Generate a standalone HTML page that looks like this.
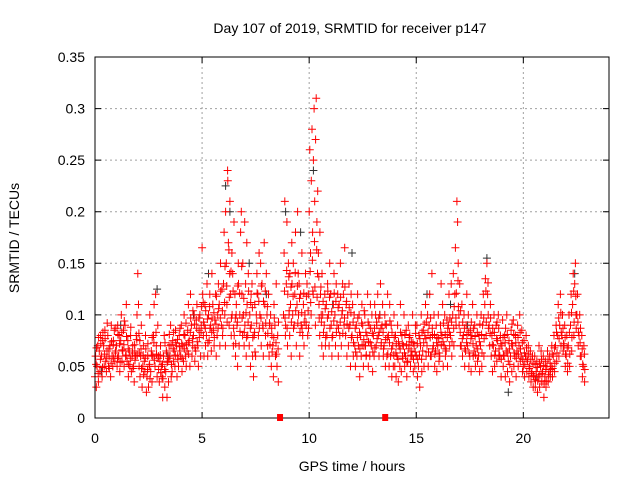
<!DOCTYPE html>
<html><head><meta charset="utf-8"><style>
body{margin:0;background:#fff;}
svg{display:block;font-family:"Liberation Sans",sans-serif;}
</style></head><body>
<svg id="chart" width="640" height="480" viewBox="0 0 640 480" xmlns="http://www.w3.org/2000/svg">
<rect width="640" height="480" fill="#fff"/>
<text x="350" y="33" font-size="14" text-anchor="middle" fill="#000">Day 107 of 2019, SRMTID for receiver p147</text>
<text transform="translate(19,238) rotate(-90)" font-size="14" text-anchor="middle" fill="#000">SRMTID / TECUs</text>
<text x="352" y="471" font-size="14" text-anchor="middle" fill="#000">GPS time / hours</text>
<g id="grid"></g>
<g id="ticks"></g>
<g id="gray"></g>
<g id="red"></g>
<rect x="95" y="57" width="514" height="361" fill="none" stroke="#000" stroke-width="1"/>
<g id="marks"></g>
</svg>
<script>
const xTicks = [0,5,10,15,20];
const yTicks = [0,0.05,0.1,0.15,0.2,0.25,0.3,0.35];
const yTickLabels = ["0","0.05","0.1","0.15","0.2","0.25","0.3","0.35"];
const gapHours = [8.64,13.55];
const hours = [0.0,0.1,0.2,0.3,0.4,0.5,0.6,0.7,0.8,0.9,1.0,1.1,1.2,1.3,1.4,1.5,1.6,1.7,1.8,1.9,2.0,2.1,2.2,2.3,2.4,2.5,2.6,2.7,2.8,2.9,3.0,3.1,3.2,3.3,3.4,3.5,3.6,3.7,3.8,3.9,4.0,4.1,4.2,4.3,4.4,4.5,4.6,4.7,4.8,4.9,5.0,5.1,5.2,5.3,5.4,5.5,5.6,5.7,5.8,5.9,6.0,6.1,6.2,6.3,6.4,6.5,6.6,6.7,6.8,6.9,7.0,7.1,7.2,7.3,7.4,7.5,7.6,7.7,7.8,7.9,8.0,8.1,8.2,8.3,8.4,8.5,8.8,8.9,9.0,9.1,9.2,9.3,9.4,9.5,9.6,9.7,9.8,9.9,10.0,10.1,10.2,10.3,10.4,10.5,10.6,10.7,10.8,10.9,11.0,11.1,11.2,11.3,11.4,11.5,11.6,11.7,11.8,11.9,12.0,12.1,12.2,12.3,12.4,12.5,12.6,12.7,12.8,12.9,13.0,13.1,13.2,13.3,13.4,13.5,13.6,13.7,13.8,13.9,14.0,14.1,14.2,14.3,14.4,14.5,14.6,14.7,14.8,14.9,15.0,15.1,15.2,15.3,15.4,15.5,15.6,15.7,15.8,15.9,16.0,16.1,16.2,16.3,16.4,16.5,16.6,16.7,16.8,16.9,17.0,17.1,17.2,17.3,17.4,17.5,17.6,17.7,17.8,17.9,18.0,18.1,18.2,18.3,18.4,18.5,18.6,18.7,18.8,18.9,19.0,19.1,19.2,19.3,19.4,19.5,19.6,19.7,19.8,19.9,20.0,20.1,20.2,20.3,20.4,20.5,20.6,20.7,20.8,20.9,21.0,21.1,21.2,21.3,21.4,21.5,21.6,21.7,21.8,21.9,22.0,22.1,22.2,22.3,22.4,22.5,22.6,22.7,22.8];
const redValues = [
[.04,.06,.03],[.05,.07,.035],[.065,.045,.08],[.06,.04,.075],[.07,.05,.085],[.055,.045,.065],[.08,.05,.06],[.07,.04,.09],[.06,.05,.075],[.085,.055,.065],
[.07,.05,.09],[.06,.08,.045],[.075,.1,.055],[.065,.085,.05],[.09,.06,.11],[.055,.075,.04],[.065,.05,.08],[.045,.06,.07],[.05,.035,.065],[.06,.08,.1],
[.14,.11,.05,.075],[.04,.06,.09],[.03,.05,.07],[.055,.045,.08],[.025,.04,.06],[.03,.05,.1],[.045,.065,.035],[.06,.08,.11],[.05,.12,.07],[.04,.09,.06],
[.035,.055,.07],[.05,.04,.02],[.06,.08,.03],[.045,.065,.02],[.055,.035,.07],[.06,.09,.04],[.045,.075,.055],[.065,.05,.085],[.07,.04,.06],[.05,.08,.065],
[.06,.09,.045],[.07,.055,.1],[.08,.06,.05],[.065,.085,.11],[.075,.05,.12],[.09,.06,.07],[.08,.1,.055],[.065,.095,.11],[.07,.05,.085],[.1,.06,.09],
[.165,.12,.08,.06],[.09,.11,.07],[.08,.13,.06],[.1,.075,.12],[.09,.065,.14],[.11,.085,.07],[.095,.12,.06],[.08,.1,.13],[.11,.07,.15],[.09,.125,.08],
[.13,.18,.1,.07],[.2,.15,.11,.24],[.23,.17,.09,.14],[.21,.12,.08,.16],[.1,.14,.07,.19],[.08,.12,.06,.1],[.11,.09,.05,.15],[.13,.07,.1],[.18,.2,.12,.08],[.15,.1,.07,.19],
[.09,.13,.06,.17],[.11,.08,.14],[.07,.1,.05,.12],[.09,.13,.06],[.04,.08,.11],[.06,.1,.14],[.12,.08,.16],[.1,.15,.07],[.13,.09,.06],[.17,.11,.08],
[.14,.1,.07],[.12,.06,.09],[.1,.05,.08],[.07,.04,.11],[.09,.06,.13],[.05,.08,.035],
[.1,.16,.21,.08],[.09,.13,.19,.07],[.12,.15,.1,.08],[.14,.11,.06,.17],[.13,.1,.15],[.09,.12,.18],[.07,.11,.2,.14],[.1,.13,.06],[.12,.09,.16],[.08,.11,.07],[.1,.14,.09],[.13,.08,.12],
[.2,.26,.16,.1],[.23,.28,.18,.12],[.25,.3,.21,.09],[.27,.31,.19,.14],[.22,.16,.11,.08],[.18,.12,.1,.07],[.14,.1,.06],[.09,.12,.07],[.11,.08,.13],[.1,.07,.15],
[.12,.09,.06],[.08,.11,.14],[.1,.07,.13],[.09,.12,.06],[.11,.08,.15],[.07,.1,.13],[.12,.09,.165],[.08,.11,.06],[.1,.07,.13],[.09,.05,.12],
[.08,.11,.06],[.1,.07,.05],[.09,.06,.12],[.07,.1,.04],[.08,.06,.11],[.09,.05,.07],[.1,.07,.06],[.08,.12,.05],[.09,.06,.11],[.07,.1,.045],
[.08,.06,.11],[.1,.07,.09],[.12,.08,.06],[.1,.13,.07],[.09,.11,.06],[.07,.1,.05],[.09,.06,.12],[.08,.05,.11],[.06,.09,.04],[.07,.05,.1],
[.05,.08,.04],[.06,.09,.035],[.07,.05,.11],[.045,.08,.06],[.07,.1,.05],[.06,.085,.04],[.055,.09,.07],[.08,.05,.065],[.06,.1,.045],[.07,.05,.09],
[.06,.09,.04],[.05,.08,.03],[.07,.1,.045],[.065,.085,.05],[.08,.11,.06],[.07,.1,.05],[.09,.12,.06],[.06,.14,.08],[.07,.1,.05],[.065,.09,.045],
[.07,.1,.055],[.06,.09,.13],[.08,.11,.05],[.07,.1,.06],[.065,.095,.05],[.09,.12,.07],[.08,.13,.06],[.1,.14,.07],[.12,.165,.09],[.21,.19,.15,.1],
[.09,.13,.07],[.07,.11,.06],[.08,.1,.05],[.065,.09,.12],[.07,.1,.05],[.06,.085,.045],[.08,.11,.06],[.065,.09,.05],[.07,.1,.055],[.06,.08,.045],
[.07,.1,.05],[.09,.12,.06],[.11,.135,.08],[.15,.12,.1],[.09,.07,.11],[.06,.08,.045],[.07,.1,.05],[.065,.09,.055],[.075,.1,.06],[.06,.08,.04],
[.07,.095,.05],[.06,.08,.04],[.065,.1,.045],[.055,.075,.035],[.06,.085,.045],[.07,.095,.05],[.06,.08,.04],[.065,.09,.05],[.07,.1,.055],[.06,.085,.045],
[.05,.075,.04],[.06,.08,.045],[.055,.07,.04],[.05,.065,.035],[.045,.06,.03],[.04,.06,.03],[.045,.055,.025],[.04,.07,.03],[.05,.065,.035],[.045,.06,.02],
[.04,.055,.03],[.05,.065,.035],[.045,.06,.04],[.05,.07,.04],[.06,.08,.045],[.07,.09,.055],[.08,.11,.06],[.09,.12,.07],[.08,.1,.065],[.07,.09,.05],
[.06,.08,.045],[.07,.1,.05],[.09,.12,.065],[.11,.14,.08],[.13,.15,.1],[.1,.12,.07],[.08,.1,.06],[.06,.08,.04],[.05,.07,.035]
];
// second sweep of samples (offset half a bin)
const redValues2 = [
[.052,.068],[.043,.078],[.057,.072],[.049,.083],[.062,.077],[.058,.092],[.067,.048],[.053,.074],[.071,.058],[.063,.087],
[.058,.081],[.072,.054],[.083,.066],[.071,.094],[.061,.079],[.067,.052],[.058,.088],[.063,.048],[.071,.056],[.076,.061],
[.082,.063],[.067,.048],[.061,.042],[.058,.067],[.047,.072],[.052,.038],[.061,.078],[.073,.056],[.083,.062],[.058,.047],
[.061,.044],[.052,.038],[.047,.073],[.063,.054],[.058,.081],[.071,.052],[.067,.083],[.061,.073],[.076,.057],[.069,.087],
[.072,.058],[.081,.067],[.092,.071],[.073,.062],[.083,.097],[.077,.104],[.091,.068],[.087,.074],[.097,.078],[.083,.108],
[.112,.093],[.087,.104],[.096,.073],[.108,.087],[.083,.097],[.102,.078],[.091,.118],[.087,.106],[.097,.123],[.104,.087],
[.112,.147],[.128,.093],[.163,.117],[.142,.097],[.123,.087],[.097,.072],[.093,.128],[.121,.084],[.147,.097],[.116,.083],
[.102,.078],[.093,.123],[.087,.112],[.107,.078],[.083,.064],[.092,.121],[.113,.087],[.097,.128],[.087,.113],[.123,.092],
[.108,.082],[.092,.071],[.087,.064],[.078,.097],[.073,.062],[.067,.093],
[.123,.097],[.143,.087],[.137,.104],[.127,.093],[.118,.087],[.141,.104],[.128,.092],[.116,.083],[.102,.087],[.121,.093],[.093,.118],[.104,.087],
[.142,.112],[.153,.123],[.171,.127],[.163,.117],[.137,.097],[.127,.093],[.113,.083],[.106,.078],[.097,.123],[.117,.087],
[.103,.078],[.094,.121],[.113,.083],[.107,.087],[.093,.117],[.104,.082],[.097,.127],[.113,.091],[.087,.107],[.102,.078],
[.093,.073],[.087,.064],[.078,.097],[.083,.067],[.092,.071],[.076,.104],[.083,.061],[.093,.074],[.073,.087],[.082,.064],
[.087,.068],[.093,.077],[.097,.083],[.087,.073],[.083,.067],[.091,.076],[.078,.062],[.073,.094],[.067,.083],[.061,.078],
[.063,.072],[.057,.074],[.067,.083],[.072,.058],[.063,.081],[.071,.054],[.067,.078],[.061,.074],[.073,.057],[.064,.082],
[.072,.057],[.061,.077],[.057,.083],[.073,.091],[.077,.093],[.083,.064],[.078,.097],[.087,.067],[.081,.062],[.073,.078],
[.077,.063],[.083,.071],[.074,.092],[.081,.067],[.078,.087],[.083,.097],[.093,.074],[.087,.108],[.097,.121],[.133,.108],
[.083,.104],[.077,.093],[.087,.067],[.073,.081],[.083,.063],[.077,.093],[.072,.087],[.079,.061],[.083,.067],[.074,.091],
[.081,.063],[.097,.077],[.123,.093],[.131,.087],[.082,.097],[.071,.087],[.083,.061],[.077,.093],[.087,.067],[.072,.057],
[.078,.061],[.073,.087],[.081,.063],[.067,.052],[.072,.091],[.081,.063],[.073,.058],[.078,.062],[.083,.067],[.073,.057],
[.063,.052],[.068,.057],[.062,.048],[.057,.043],[.053,.041],[.052,.037],[.049,.036],[.053,.042],[.057,.043],[.051,.033],
[.047,.036],[.057,.042],[.053,.047],[.062,.048],[.068,.053],[.083,.063],[.097,.077],[.102,.083],[.087,.072],[.078,.062],
[.068,.053],[.083,.062],[.102,.078],[.123,.093],[.118,.087],[.093,.083],[.073,.087],[.067,.052],[.062,.047]
];
const grayHours = [0.3,1.2,2.9,3.4,4.6,5.3,6.1,6.3,7.2,8.0,8.9,9.6,10.2,11.1,12.0,13.3,14.2,15.5,16.6,17.4,18.3,19.3,20.6,21.9,22.4];
const grayValues = [0.045,0.09,0.125,0.06,0.1,0.14,0.225,0.2,0.15,0.12,0.2,0.18,0.24,0.11,0.16,0.1,0.07,0.12,0.11,0.09,0.155,0.025,0.04,0.07,0.14];

const X0=95, X1=609, Y0=418, Y1=57, XMAX=24, YMAX=0.35;
function sx(h){return X0+(X1-X0)*h/XMAX;}
function sy(v){return Y0-(Y0-Y1)*v/YMAX;}
const NS="http://www.w3.org/2000/svg";
function mk(tag,attrs,parent){const e=document.createElementNS(NS,tag);for(const k in attrs)e.setAttribute(k,attrs[k]);parent.appendChild(e);return e;}
const grid=document.getElementById('grid'), ticks=document.getElementById('ticks');
xTicks.forEach(t=>{
  const x=sx(t);
  if(t>0){const g=mk('line',{x1:x,x2:x,y1:Y1,y2:Y0,stroke:'#a0a0a0','stroke-dasharray':'2,3'},grid);
  
  }
  const a=mk('path',{d:`M${x} ${Y0}v-6M${x} ${Y1}v6`,stroke:'#000'},ticks);
  
  
  const l=mk('text',{x:x,y:443,'font-size':14,'text-anchor':'middle',fill:'#000'},ticks);
  l.textContent=String(t);
  
  
});
yTicks.forEach((t,i)=>{
  const y=sy(t);
  if(i>0&&i<yTicks.length-1){const g=mk('line',{x1:X0,x2:X1,y1:y,y2:y,stroke:'#a0a0a0','stroke-dasharray':'2,3'},grid);
  
  }
  const a=mk('path',{d:`M${X0} ${y}h6M${X1} ${y}h-6`,stroke:'#000'},ticks);
  
  
  const l=mk('text',{x:85,y:y+5,'font-size':14,'text-anchor':'end',fill:'#000'},ticks);
  l.textContent=yTickLabels[i];
  
  
});
function plus(x,y,color,parent,name){
  const p=mk('path',{d:`M${(x-4).toFixed(1)} ${y.toFixed(1)}h8M${x.toFixed(1)} ${(y-4).toFixed(1)}v8`,stroke:color,'stroke-width':1,fill:'none'},parent);
  
  
}
const gray=document.getElementById('gray');
grayHours.forEach((h,i)=>plus(sx(h),sy(grayValues[i]),'#303030',gray,'gray-point'));
const red=document.getElementById('red');
hours.forEach((h,i)=>{
  redValues[i].forEach((v,k)=>plus(sx(h+k*0.03),sy(v),'#ff0000',red,'red-point'));
  redValues2[i].forEach((v,k)=>plus(sx(h+0.05+k*0.02),sy(v),'#ff0000',red,'red-point'));
});
const marks=document.getElementById('marks');
gapHours.forEach(h=>{
  const r=mk('rect',{x:sx(h)-3,y:Y0-4,width:6,height:7,fill:'#ff0000'},marks);
  
  
});
</script>
</body></html>
